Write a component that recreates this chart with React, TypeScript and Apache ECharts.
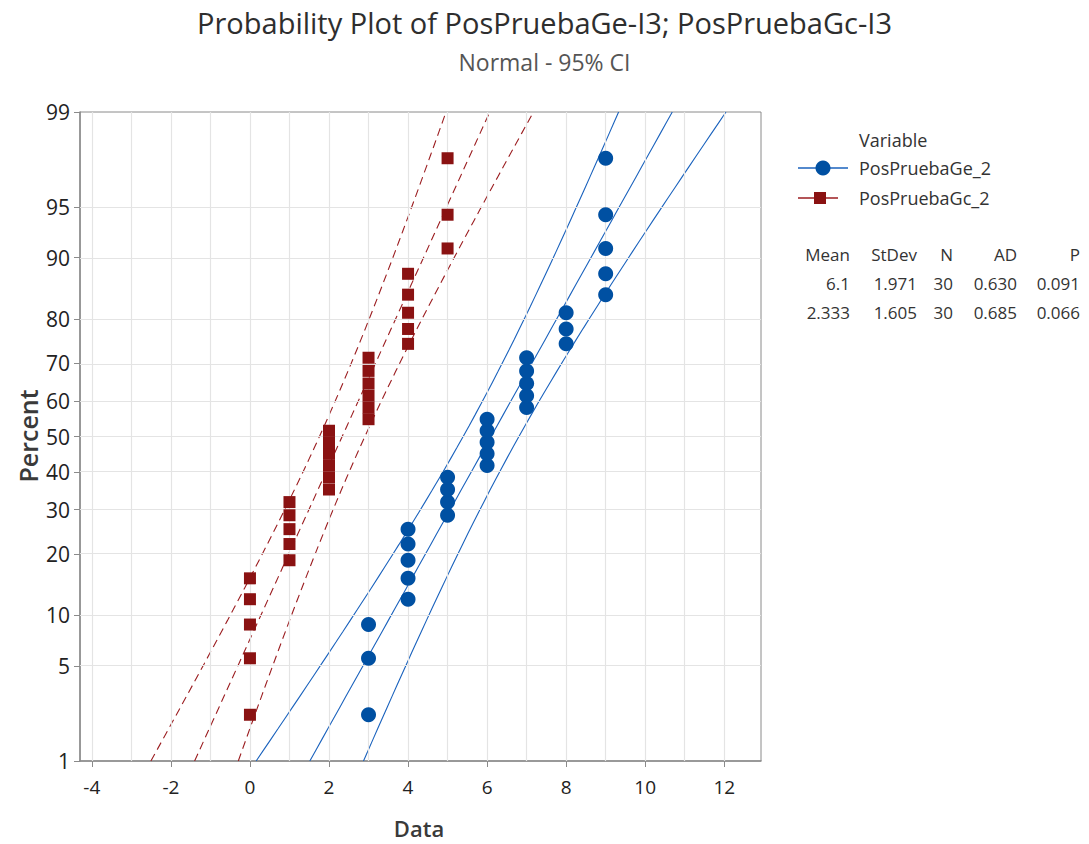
import React, { useEffect, useRef } from "react";
import * as echarts from "echarts";

// ---- data ----
const percentTicks = [1, 5, 10, 20, 30, 40, 50, 60, 70, 80, 90, 95, 99];
const xTicks = [-4, -2, 0, 2, 4, 6, 8, 10, 12];
const xGridValues = [-4, -3, -2, -1, 0, 1, 2, 3, 4, 5, 6, 7, 8, 9, 10, 11, 12];
// plotting positions (median ranks) in percent, rank 1..30
const plotPercents = [
  2.303, 5.592, 8.882, 12.171, 15.461, 18.75, 22.039, 25.329, 28.618, 31.908,
  35.197, 38.487, 41.776, 45.066, 48.355, 51.645, 54.934, 58.224, 61.513, 64.803,
  68.092, 71.382, 74.671, 77.961, 81.25, 84.539, 87.829, 91.118, 94.408, 97.697,
];
const geData = [3, 3, 3, 4, 4, 4, 4, 4, 5, 5, 5, 5, 6, 6, 6, 6, 6, 7, 7, 7, 7, 7, 8, 8, 8, 9, 9, 9, 9, 9];
const gcData = [0, 0, 0, 0, 0, 1, 1, 1, 1, 1, 2, 2, 2, 2, 2, 2, 3, 3, 3, 3, 3, 3, 4, 4, 4, 4, 4, 5, 5, 5];
const seriesNames = ["PosPruebaGe_2", "PosPruebaGc_2"];
const means = [6.1, 2.333];
const stdevs = [1.971, 1.605];
const ns = [30, 30];
const meanLabels = ["6.1", "2.333"];
const stdevLabels = ["1.971", "1.605"];
const adLabels = ["0.630", "0.685"];
const pLabels = ["0.091", "0.066"];
const statHeaders = ["Mean", "StDev", "N", "AD", "P"];

const BLUE = "#0050a2";
const BLUE_LINE = "#1a62bd";
const RED = "#8a1212";
const RED_LINE = "#9b1d20";
const FONT = "'Open Sans', 'Noto Sans', sans-serif";

function invNorm(p: number): number {
  const a = [-3.969683028665376e1, 2.209460984245205e2, -2.759285104469687e2, 1.38357751867269e2, -3.066479806614716e1, 2.506628277459239];
  const b = [-5.447609879822406e1, 1.615858368580409e2, -1.556989798598866e2, 6.680131188771972e1, -1.328068155288572e1];
  const c = [-7.784894002430293e-3, -3.223964580411365e-1, -2.400758277161838, -2.549732539343734, 4.374664141464968, 2.938163982698783];
  const d = [7.784695709041462e-3, 3.224671290700398e-1, 2.445134137142996, 3.754408661907416];
  const pl = 0.02425;
  if (p < pl) {
    const q = Math.sqrt(-2 * Math.log(p));
    return (((((c[0] * q + c[1]) * q + c[2]) * q + c[3]) * q + c[4]) * q + c[5]) / ((((d[0] * q + d[1]) * q + d[2]) * q + d[3]) * q + 1);
  }
  if (p <= 1 - pl) {
    const q = p - 0.5;
    const r = q * q;
    return ((((((a[0] * r + a[1]) * r + a[2]) * r + a[3]) * r + a[4]) * r + a[5]) * q) / (((((b[0] * r + b[1]) * r + b[2]) * r + b[3]) * r + b[4]) * r + 1);
  }
  const q = Math.sqrt(-2 * Math.log(1 - p));
  return -(((((c[0] * q + c[1]) * q + c[2]) * q + c[3]) * q + c[4]) * q + c[5]) / ((((d[0] * q + d[1]) * q + d[2]) * q + d[3]) * q + 1);
}

const tickZ = percentTicks.map((p) => invNorm(p / 100));
const zMin = tickZ[0];
const zMax = tickZ[tickZ.length - 1];

function fitLines(k: number) {
  const m = means[k], s = stdevs[k], n = ns[k];
  const fit: number[][] = [], lo: number[][] = [], hi: number[][] = [];
  const steps = 60;
  for (let i = 0; i <= steps; i++) {
    const z = zMin + ((zMax - zMin) * i) / steps;
    const x = m + s * z;
    const se = s * Math.sqrt(1 / n + (z * z) / (2 * n));
    fit.push([x, z]);
    lo.push([x - 1.959964 * se, z]);
    hi.push([x + 1.959964 * se, z]);
  }
  return { fit, lo, hi };
}

export default function App() {
  const ref = useRef<HTMLDivElement>(null);
  useEffect(() => {
    const chart = echarts.init(ref.current!, undefined, { renderer: "svg" });
    const ge = fitLines(0);
    const gc = fitLines(1);
    const lineSeries = (data: number[][], color: string, dashed: boolean) => ({
      type: "line",
      data,
      showSymbol: false,
      symbol: "none",
      silent: true,
      z: 3,
      clip: true,
      lineStyle: { color, width: 1.1, type: dashed ? [8, 5] : "solid" },
    });

    const legendY = [168, 198];
    const statCols = [850, 917, 953, 1017, 1080];
    const statRows = [
      [meanLabels[0], stdevLabels[0], String(ns[0]), adLabels[0], pLabels[0]],
      [meanLabels[1], stdevLabels[1], String(ns[1]), adLabels[1], pLabels[1]],
    ];
    const graphics: any[] = [
      { type: "text", x: 28, y: 436, rotation: Math.PI / 2, style: { text: "Percent", fontSize: 25, fontWeight: 600, fill: "#3a3a3a", fontFamily: FONT, textAlign: "center", textVerticalAlign: "middle" } },
      { type: "text", x: 419, y: 828, style: { text: "Data", fontSize: 22, fontWeight: 600, fill: "#3a3a3a", fontFamily: FONT, textAlign: "center", textVerticalAlign: "middle" } },
      { type: "text", x: 859, y: 140, style: { text: "Variable", fontSize: 18, fill: "#333", fontFamily: FONT, textAlign: "left", textVerticalAlign: "middle" } },
      { type: "line", shape: { x1: 798, y1: legendY[0], x2: 848, y2: legendY[0] }, style: { stroke: BLUE_LINE, lineWidth: 1.5 } },
      { type: "circle", shape: { cx: 823, cy: legendY[0], r: 7.5 }, style: { fill: BLUE } },
      { type: "text", x: 859, y: legendY[0], style: { text: seriesNames[0], fontSize: 18, fill: "#333", fontFamily: FONT, textAlign: "left", textVerticalAlign: "middle" } },
      { type: "line", shape: { x1: 798, y1: legendY[1], x2: 838, y2: legendY[1] }, style: { stroke: RED_LINE, lineWidth: 1.5 } },
      { type: "rect", shape: { x: 814, y: legendY[1] - 6, width: 12, height: 12 }, style: { fill: RED } },
      { type: "text", x: 859, y: legendY[1], style: { text: seriesNames[1], fontSize: 18, fill: "#333", fontFamily: FONT, textAlign: "left", textVerticalAlign: "middle" } },
    ];
    statHeaders.forEach((h, i) => {
      graphics.push({ type: "text", x: statCols[i], y: 254, style: { text: h, fontSize: 17, fill: "#333", fontFamily: FONT, textAlign: "right", textVerticalAlign: "middle" } });
    });
    statRows.forEach((row, r) => {
      row.forEach((t, i) => {
        graphics.push({ type: "text", x: statCols[i], y: 283 + r * 29, style: { text: t, fontSize: 17, fill: "#333", fontFamily: FONT, textAlign: "right", textVerticalAlign: "middle" } });
      });
    });

    chart.setOption({
      animation: false,
      textStyle: { fontFamily: FONT },
      title: [
        { text: "Probability Plot of PosPruebaGe-I3; PosPruebaGc-I3", left: "center", top: 3, textStyle: { fontSize: 29, fontWeight: "normal", color: "#2e2e2e", fontFamily: FONT } },
        { text: "Normal - 95% CI", left: "center", top: 45, textStyle: { fontSize: 23, fontWeight: "normal", color: "#555", fontFamily: FONT } },
      ],
      grid: { left: 80, top: 112, width: 681, height: 649, show: true, borderColor: "#8a8a8a", borderWidth: 1, containLabel: false },
      xAxis: {
        type: "value",
        min: -4.3,
        max: 12.93,
        axisLine: { show: true, onZero: false, lineStyle: { color: "#8a8a8a", width: 1.5 } },
        axisTick: { show: true, customValues: xTicks, length: 6, lineStyle: { color: "#8a8a8a" } },
        axisLabel: { customValues: xTicks, fontSize: 19, color: "#222", margin: 16, fontFamily: FONT },
        splitLine: { show: false },
      },
      yAxis: {
        type: "value",
        min: zMin,
        max: zMax,
        axisLine: { show: true, onZero: false, lineStyle: { color: "#8a8a8a", width: 1.5 } },
        axisTick: { show: true, customValues: tickZ, length: 6, lineStyle: { color: "#8a8a8a" } },
        axisLabel: {
          customValues: tickZ,
          fontSize: 21,
          color: "#222",
          margin: 10,
          fontFamily: FONT,
          formatter: (v: number) => {
            const i = tickZ.findIndex((z) => Math.abs(z - v) < 1e-6);
            return i >= 0 ? String(percentTicks[i]) : "";
          },
        },
        splitLine: { show: false },
      },
      graphic: graphics,
      series: [
        {
          type: "line",
          data: [],
          z: 1,
          silent: true,
          markLine: {
            silent: true,
            symbol: ["none", "none"],
            label: { show: false },
            lineStyle: { color: "#e4e4e4", type: "solid", width: 1.2 },
            data: [
              ...xGridValues.map((x) => ({ xAxis: x })),
              ...tickZ.map((z) => ({ yAxis: z })),
            ],
          },
        },
        lineSeries(ge.lo, BLUE_LINE, false),
        lineSeries(ge.fit, BLUE_LINE, false),
        lineSeries(ge.hi, BLUE_LINE, false),
        lineSeries(gc.lo, RED_LINE, true),
        lineSeries(gc.fit, RED_LINE, true),
        lineSeries(gc.hi, RED_LINE, true),
        {
          name: seriesNames[0],
          type: "scatter",
          z: 5,
          symbol: "circle",
          symbolSize: 15,
          itemStyle: { color: BLUE, opacity: 1 },
          data: geData.map((x, i) => [x, invNorm(plotPercents[i] / 100)]),
        },
        {
          name: seriesNames[1],
          type: "scatter",
          z: 5,
          symbol: "rect",
          symbolSize: 12,
          itemStyle: { color: RED, opacity: 1 },
          data: gcData.map((x, i) => [x, invNorm(plotPercents[i] / 100)]),
        },
      ],
    });
    return () => chart.dispose();
  }, []);
  return (
    <div
      ref={ref}
      style={{ position: "fixed", left: 0, top: 0, width: 1089, height: 844, background: "#fff" }}
    />
  );
}
